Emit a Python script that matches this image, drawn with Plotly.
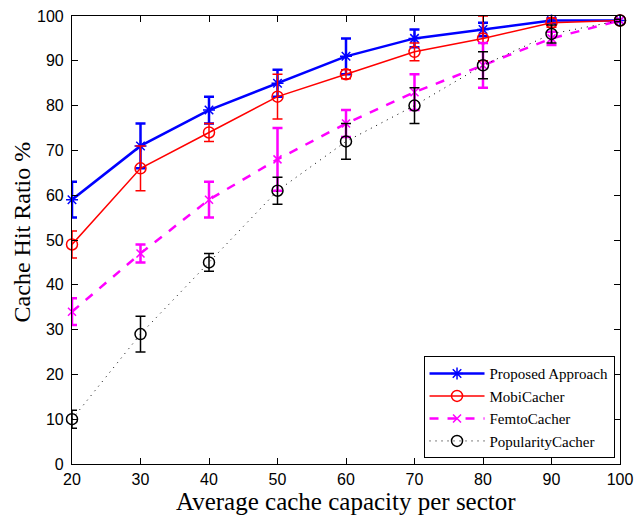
import plotly.graph_objects as go

# Average cache capacity per sector
capacity = [20, 30, 40, 50, 60, 70, 80, 90, 100]

# Cache hit ratio (%) and error-bar half widths for each scheme
proposed = [59, 71, 79, 85, 91, 95, 97, 99, 99]
proposed_err = [4, 5, 3, 3, 4, 2, 1.5, 0.5, 0.3]

mobi = [49, 66, 74, 82, 87, 92, 95, 98.5, 99]
mobi_err = [3, 5, 2, 5, 1, 2, 5, 1, 0.3]

femto = [34, 47, 59, 68, 76, 83, 89, 95, 99]
femto_err = [3, 2, 4, 7, 3, 4, 5, 1.5, 0.3]

popularity = [10, 29, 45, 61, 72, 80, 89, 96, 99]
popularity_err = [2, 4, 2, 3, 4, 4, 3, 2, 0.3]

y_ticks = list(range(0, 101, 10))

series = [
    ("Proposed Approach", proposed, proposed_err, "#0000ff", 2.5, "solid", "asterisk-open", 10),
    ("MobiCacher", mobi, mobi_err, "#ff0000", 1.5, "solid", "circle-open", 11),
    ("FemtoCacher", femto, femto_err, "#ff00ff", 2.5, "dash", "x-thin-open", 8),
    ("PopularityCacher", popularity, popularity_err, "#000000", 1.0, "1px,5px", "circle-open", 11),
]

SERIF = "Liberation Serif, Times New Roman, serif"
SANS = "Liberation Sans, Arial, sans-serif"

fig = go.Figure()
for name, y, err, color, width, dash, symbol, size in series:
    fig.add_trace(go.Scatter(
        x=capacity, y=y, name=name, mode="lines+markers",
        line=dict(color=color, width=width, dash=dash),
        marker=dict(symbol=symbol, size=size, color=color,
                    line=dict(color=color, width=1.5)),
        error_y=dict(type="data", array=err, visible=True, color=color,
                     thickness=max(width, 1.5), width=5),
        cliponaxis=False,
    ))

axis_common = dict(
    showgrid=False, zeroline=False, showline=True, linecolor="black",
    linewidth=1.2, mirror="ticks", ticks="inside", ticklen=6, tickcolor="black",
    tickfont=dict(family=SANS, size=16, color="black"),
    automargin=False,
)

fig.update_layout(
    width=644, height=515,
    paper_bgcolor="white", plot_bgcolor="white",
    margin=dict(l=72, r=24, t=16, b=51),
    xaxis=dict(range=[20, 100], tickvals=capacity, ticklabelstandoff=1, **axis_common),
    yaxis=dict(range=[0, 100], tickvals=y_ticks, ticklabelstandoff=4, **axis_common),
    legend=dict(x=0.99, y=0.013, xanchor="right", yanchor="bottom",
                bgcolor="white", bordercolor="black", borderwidth=1,
                font=dict(family=SERIF, size=15, color="black"),
                tracegroupgap=0, itemwidth=55),
    showlegend=True,
    annotations=[
        dict(text="Average cache capacity per sector", xref="paper", yref="paper",
             x=0.5, y=0, xanchor="center", yanchor="middle", yshift=-37,
             showarrow=False, font=dict(family=SERIF, size=25, color="black")),
        dict(text="Cache Hit Ratio %", xref="paper", yref="paper",
             x=0, y=0.517, xanchor="center", yanchor="middle", xshift=-50,
             textangle=-90, showarrow=False,
             font=dict(family=SERIF, size=24, color="black")),
    ],
)

fig.write_html("out.html")
